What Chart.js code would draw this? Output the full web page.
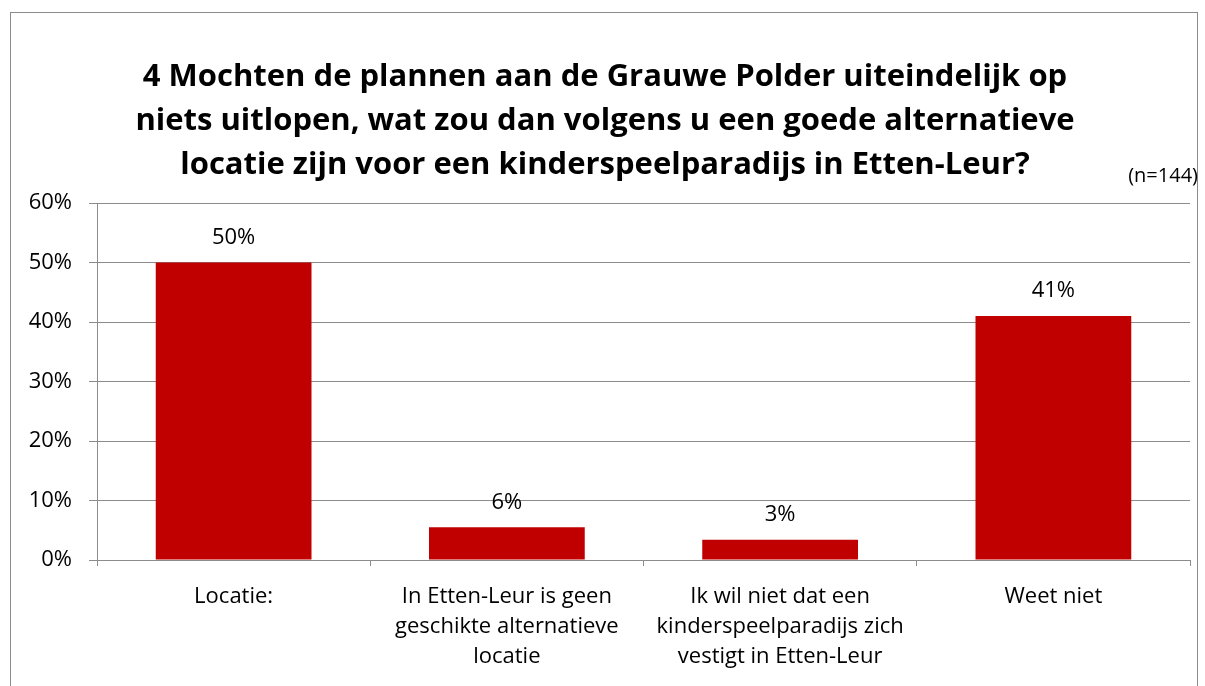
<!DOCTYPE html>
<html><head><meta charset="utf-8">
<script src="https://cdn.jsdelivr.net/npm/chart.js@4"></script>
<style>html,body{margin:0;padding:0;background:#fff}#wrap{width:1205px;height:686px;position:relative}</style>
</head><body><div id="wrap"><canvas id="c" width="1205" height="686"></canvas></div>
<script>
const categories = [
  ["Locatie:"],
  ["In Etten-Leur is geen","geschikte alternatieve","locatie"],
  ["Ik wil niet dat een","kinderspeelparadijs zich","vestigt in Etten-Leur"],
  ["Weet niet"]
];
const values = [0.50, 0.055, 0.034, 0.41];
const valueLabels = ["50%","6%","3%","41%"];
const titleLines = [
  "4 Mochten de plannen aan de Grauwe Polder uiteindelijk op",
  "niets uitlopen, wat zou dan volgens u een goede alternatieve",
  "locatie zijn voor een kinderspeelparadijs in Etten-Leur?"
];
const noteText = "(n=144)";
const FONT = "'Open Sans', sans-serif";
const GRID = "#8c8c8c";

const extras = {
  id: 'extras',
  afterDraw(chart) {
    const ctx = chart.ctx;
    ctx.save();
    ctx.strokeStyle = GRID; ctx.lineWidth = 1;
    ctx.strokeRect(10.5, 12.5, 1187, 700);
    ctx.fillStyle = '#000';
    ctx.font = "20px " + FONT;
    ctx.textAlign = 'right'; ctx.textBaseline = 'middle';
    ctx.fillText(noteText, 1198, 176);
    ctx.font = "22px " + FONT;
    const meta = chart.getDatasetMeta(0);
    ctx.textAlign = 'center';
    meta.data.forEach((bar, i) => {
      ctx.fillText(valueLabels[i], bar.x, bar.y - 25);
    });
    ctx.restore();
  }
};

new Chart(document.getElementById('c'), {
  type: 'bar',
  data: { labels: categories, datasets: [{ data: values, backgroundColor: '#C00000', barPercentage: 0.57, categoryPercentage: 1 }] },
  options: {
    responsive: false, animation: false, devicePixelRatio: 1,
    layout: { padding: { left: 20, right: 15, top: 0, bottom: 0 } },
    plugins: {
      legend: { display: false }, tooltip: { enabled: false },
      title: { display: true, text: titleLines, color: '#000',
        font: { family: FONT, size: 31, weight: 'bold', lineHeight: 1.42 },
        padding: { top: 55, bottom: 16 } }
    },
    scales: {
      y: {
        min: 0, max: 0.6,
        ticks: { stepSize: 0.1, color: '#000', font: { family: FONT, size: 22 }, padding: 17,
          callback: v => Math.round(v * 100) + '%' },
        grid: { color: GRID, tickLength: 8, lineWidth: 1 },
        border: { color: GRID },
        afterFit(s) { s.width = 77; }
      },
      x: {
        ticks: { color: '#000', font: { family: FONT, size: 22, lineHeight: 1.36 }, padding: 16, maxRotation: 0, autoSkip: false },
        grid: { display: true, drawOnChartArea: false, color: GRID, tickLength: 6, offset: true },
        border: { color: GRID },
        afterFit(s) { s.height = 126; }
      }
    }
  },
  plugins: [extras]
});
</script></body></html>
